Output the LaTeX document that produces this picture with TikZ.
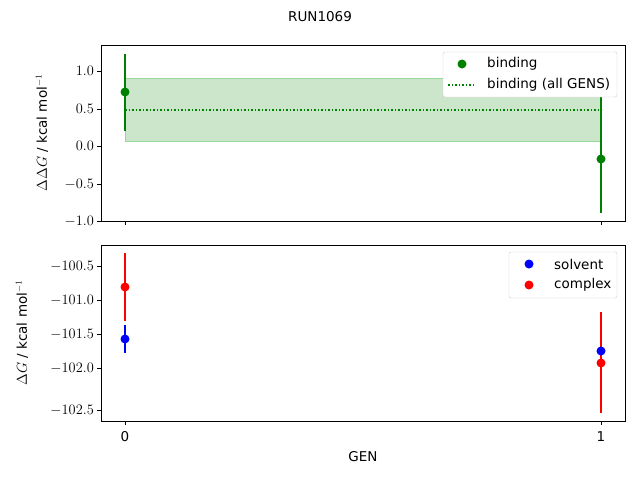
\documentclass[tikz,border=0pt]{standalone}
\usepackage{fontspec}
\setmainfont{DejaVu Sans}
\definecolor{mgreen}{RGB}{0,128,0}
\definecolor{band}{RGB}{204,230,204}
\begin{document}
\begin{tikzpicture}[x=1pt,y=-1pt,font=\fontsize{13.5}{16}\selectfont,
  tk/.style={line width=0.8pt},
  eb/.style={line width=1.5pt},
  lbl/.style={inner sep=0pt}]
\useasboundingbox (0,0) rectangle (640,480);
\node[lbl] (title) at (320,17) {RUN1069};
% top axes
\fill[band] (125,78) rectangle (601,141);
\draw[green!60!black!40,line width=0.5pt] (125,78) rectangle (601,141);
\draw[mgreen,dotted,line width=1.5pt] (125,110) -- (601,110);
\draw[mgreen,eb] (125,54) -- (125,131);
\draw[mgreen,eb] (601,90) -- (601,213);
\fill[mgreen] (125,92) circle (4.5);
\fill[mgreen] (601,159) circle (4.5);
\draw[tk] (101,45) rectangle (625,221);
\foreach \v/\p in {1.0/71,0.5/109,0.0/146,-0.5/184,-1.0/221}{
  \draw[tk] (101,\p) -- (97,\p);
  \node[lbl,anchor=east] at (94,\p) {$\v$};}
\foreach \p in {125,601}{\draw[tk] (\p,221) -- (\p,225);}
\node[lbl,rotate=90] (yl1) at (42,133) {$\Delta\Delta G$ / kcal mol$^{-1}$};
% legend top
\draw[gray!40,fill=white,rounded corners=2pt] (443,52) rectangle (617,97);
\fill[mgreen] (462,64) circle (4.5);
\node[lbl,anchor=west] (lb1) at (487,64) {binding};
\draw[mgreen,dotted,line width=1.5pt] (448,85) -- (476,85);
\node[lbl,anchor=west] (lb2) at (487,85) {binding (all GENS)};
% bottom axes
\draw[blue,eb] (125,325) -- (125,353);
\draw[blue,eb] (601,346) -- (601,356);
\draw[red,eb] (125,253) -- (125,321);
\draw[red,eb] (601,312) -- (601,413);
\fill[blue] (125,339) circle (4.5);
\fill[blue] (601,351) circle (4.5);
\fill[red] (125,287) circle (4.5);
\fill[red] (601,363) circle (4.5);
\draw[tk] (101,245) rectangle (625,421);
\foreach \v/\p in {100.5/266,101.0/300,101.5/334,102.0/368,102.5/410}{
  \draw[tk] (101,\p) -- (97,\p);
  \node[lbl,anchor=east] at (94,\p) {$-\v$};}
\foreach \p/\t in {125/0,601/1}{\draw[tk] (\p,421) -- (\p,425);
  \node[lbl,anchor=north] at (\p,431) {\t};}
\node[lbl] (xl) at (363,457) {GEN};
\node[lbl,rotate=90] (yl2) at (22,333) {$\Delta G$ / kcal mol$^{-1}$};
% legend bottom
\draw[gray!40,fill=white,rounded corners=2pt] (509,252) rectangle (617,298);
\fill[blue] (529,264) circle (4.5);
\node[lbl,anchor=west] (lb3) at (554,264) {solvent};
\fill[red] (529,285) circle (4.5);
\node[lbl,anchor=west] (lb4) at (554,285) {complex};
\end{tikzpicture}
\end{document}
